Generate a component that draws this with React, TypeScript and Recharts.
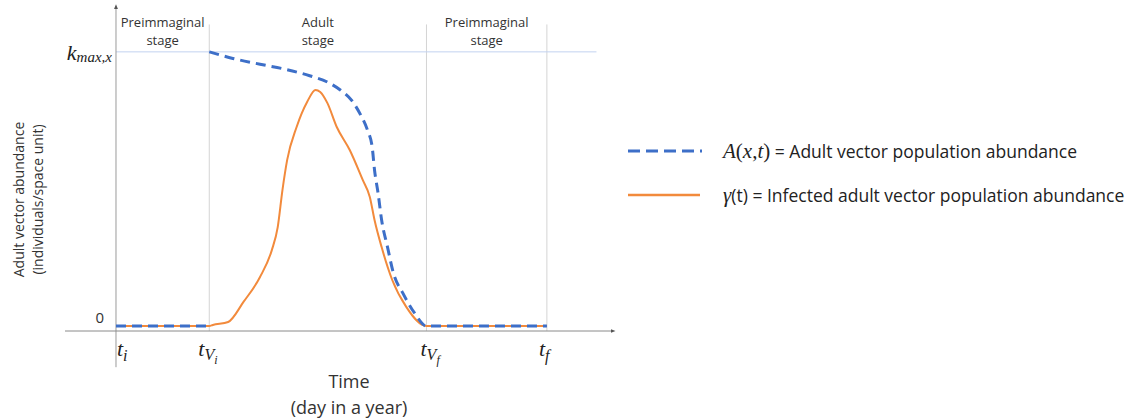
import React from 'react';
import { LineChart, Line, XAxis, YAxis, ReferenceLine, ReferenceArea, Legend, Label } from 'recharts';

// time in days (t_i = 0 ... t_f = 365), abundance relative to k_max,x
const X_TICKS = [0, 79, 263, 365];
const X_TICK_NAMES = [['t', 'i'], ['t', 'V', 'i'], ['t', 'V', 'f'], ['t', 'f']];
const Y_TICKS = [0, 1];
const STAGE_BOUNDS = [0, 79, 263, 365];
const STAGE_NAMES = [['Preimmaginal', 'stage'], ['Adult', 'stage'], ['Preimmaginal', 'stage']];

// A(x,t), null breaks the line at t_Vi
const A_TIME = [0, 79, 79, 79, 99, 122, 145, 164, 179, 190, 200, 207, 213, 217, 219, 222, 225, 230, 235, 243, 253, 263, 365];
const A_VALUE = [0, 0, null, 1.0, 0.976, 0.955, 0.935, 0.913, 0.89, 0.861, 0.821, 0.772, 0.715, 0.653, 0.569, 0.485, 0.387, 0.288, 0.193, 0.12, 0.047, 0, 0];

// gamma(t)
const G_TIME = [0, 79, 82, 95, 108, 122, 132, 137, 141, 145, 153, 162, 169, 173, 179, 187, 198, 209, 215, 219, 225, 234, 246, 263, 365];
const G_VALUE = [0, 0, 0.004, 0.015, 0.088, 0.179, 0.277, 0.361, 0.496, 0.606, 0.726, 0.818, 0.861, 0.854, 0.814, 0.726, 0.642, 0.533, 0.471, 0.387, 0.288, 0.168, 0.069, 0, 0];

const adultData = A_TIME.map((t, i) => ({ t, A: A_VALUE[i] }));
const infectedData = G_TIME.map((t, i) => ({ t, gamma: G_VALUE[i] }));

const BLUE = '#3d6fc8';
const ORANGE = '#f28a3c';
const TEXT = '#333';
const SANS = '"Open Sans", sans-serif';
const MATH = '"Liberation Serif", serif';

const XTick = ({ x, y, payload }: any) => {
  const i = X_TICKS.indexOf(payload.value);
  const parts = X_TICK_NAMES[i];
  const dx = [1, -11, -6, -8][i];
  return (
    <text x={x + dx} y={y + 25} fontFamily={MATH} fontStyle="italic" fontSize={22} fill="#222">
      <tspan>{parts[0]}</tspan>
      {parts.length === 2 ? (
        <tspan fontSize={16} dy={5}>{parts[1]}</tspan>
      ) : (
        <>
          <tspan fontSize={16} dy={4}>{parts[1]}</tspan>
          <tspan fontSize={12} dy={4}>{parts[2]}</tspan>
        </>
      )}
    </text>
  );
};

const YTick = ({ x, y, payload }: any) => {
  if (payload.value === 0) {
    return (
      <text x={x + 39} y={y - 3} textAnchor="end" fontFamily={SANS} fontSize={15} fill={TEXT}>0</text>
    );
  }
  return (
    <text x={x + 47} y={y + 8} textAnchor="end" fontFamily={MATH} fontStyle="italic" fontSize={22} fill="#222">
      <tspan>k</tspan>
      <tspan fontSize={15} dy={2}>max,x</tspan>
    </text>
  );
};

const YTitle = ({ viewBox }: any) => {
  const cy = viewBox.y + viewBox.height / 2 + 30;
  return (
    <g fontFamily={SANS} fontSize={14} fill={TEXT} textAnchor="middle">
      <text x={18} y={cy} transform={`rotate(-90, 18, ${cy})`} dominantBaseline="central">Adult vector abundance</text>
      <text x={37} y={cy} transform={`rotate(-90, 37, ${cy})`} dominantBaseline="central">(individuals/space unit)</text>
    </g>
  );
};

const XTitle = ({ viewBox }: any) => {
  const cx = viewBox.x + viewBox.width / 2 + 10;
  return (
    <g fontFamily={SANS} fontSize={18} fill={TEXT} textAnchor="middle">
      <text x={cx} y={viewBox.y + 57}>Time</text>
      <text x={cx} y={viewBox.y + 83}>(day in a year)</text>
    </g>
  );
};

const StageLabel = (lines: string[]) => ({ viewBox }: any) => {
  const cx = viewBox.x + viewBox.width / 2;
  return (
    <g fontFamily={SANS} fontSize={13} fill={TEXT} textAnchor="middle">
      <text x={cx} y={viewBox.y + 19}>{lines[0]}</text>
      <text x={cx} y={viewBox.y + 37}>{lines[1]}</text>
    </g>
  );
};

const mathSpan = (s: string, italic = true) => (
  <span style={{ fontFamily: MATH, fontStyle: italic ? 'italic' : 'normal', fontSize: 21 }}>{s}</span>
);

const legendLabel = (key: string) =>
  key === 'A' ? (
    <>
      {mathSpan('A')}
      {mathSpan('(', false)}
      {mathSpan('x')}
      {mathSpan(',', false)}
      {mathSpan('t')}
      {mathSpan(')', false)}
      <span> = Adult vector population abundance</span>
    </>
  ) : (
    <>
      {mathSpan('γ')}
      <span>(t) = Infected adult vector population abundance</span>
    </>
  );

const LegendContent = ({ payload }: any) => {
  const items = [...(payload || [])].sort((a: any, b: any) => (a.dataKey === 'A' ? -1 : b.dataKey === 'A' ? 1 : 0));
  return (
    <div style={{ fontFamily: SANS, fontSize: 17.5, color: '#222' }}>
      {items.map((entry: any) => (
        <div key={entry.dataKey} style={{ display: 'flex', alignItems: 'center', height: 44 }}>
          <svg width={74} height={10} style={{ marginRight: 21 }}>
            {entry.dataKey === 'A' ? (
              <line x1={0} y1={5} x2={74} y2={5} stroke={BLUE} strokeWidth={3} strokeDasharray="12 6 12 6 12 6 12 6 2 100" />
            ) : (
              <line x1={0} y1={5} x2={72} y2={5} stroke={ORANGE} strokeWidth={2.5} />
            )}
          </svg>
          <span style={{ whiteSpace: 'nowrap' }}>{legendLabel(entry.dataKey)}</span>
        </div>
      ))}
    </div>
  );
};

export default function App() {
  return (
    <div style={{ position: 'absolute', left: 0, top: 0, background: '#fff' }}>
      <svg width={0} height={0} style={{ position: 'absolute' }}>
        <defs>
          <marker id="arrow" viewBox="0 0 10 10" refX="5" refY="5" markerWidth="5" markerHeight="5" orient="auto" markerUnits="userSpaceOnUse">
            <path d="M0,1 L10,5 L0,9 z" fill="#555" />
          </marker>
        </defs>
      </svg>
      <LineChart width={1138} height={420} margin={{ top: 8, right: 525, bottom: 0, left: 0 }}>
        <XAxis
          dataKey="t"
          type="number"
          domain={[-43.2, 421]}
          allowDataOverflow
          ticks={X_TICKS}
          tick={<XTick />}
          tickLine={false}
          tickSize={0}
          tickMargin={0}
          height={89}
          axisLine={{ stroke: '#8a8a8a', strokeWidth: 1, markerEnd: 'url(#arrow)' }}
        >
          <Label content={<XTitle />} />
        </XAxis>
        <YAxis
          type="number"
          domain={[-0.018, 1.16]}
          allowDataOverflow
          ticks={Y_TICKS}
          tick={<YTick />}
          tickLine={false}
          tickSize={0}
          tickMargin={0}
          axisLine={false}
          width={65}
        >
          <Label content={<YTitle />} />
        </YAxis>

        {STAGE_NAMES.map((lines, i) => (
          <ReferenceArea
            key={i}
            x1={STAGE_BOUNDS[i]}
            x2={STAGE_BOUNDS[i + 1]}
            fill="none"
            stroke="none"
            ifOverflow="visible"
            label={StageLabel(lines)}
          />
        ))}
        {X_TICKS.slice(1).map((t) => (
          <ReferenceLine
            key={t}
            segment={[{ x: t, y: -0.018 }, { x: t, y: 1.1 }]}
            stroke="#d4d4d4"
            strokeWidth={1}
            ifOverflow="visible"
          />
        ))}
        <ReferenceLine
          segment={[{ x: 0, y: 1 }, { x: 407, y: 1 }]}
          stroke="#c3d2f0"
          strokeWidth={1}
          ifOverflow="visible"
        />
        <ReferenceLine
          segment={[{ x: 0, y: -0.15 }, { x: 0, y: 1.165 }]}
          stroke="#9a9a9a"
          strokeWidth={1}
          markerEnd="url(#arrow)"
          ifOverflow="visible"
        />

        <Line
          data={infectedData}
          dataKey="gamma"
          name="infected"
          type="monotone"
          stroke={ORANGE}
          strokeWidth={2}
          dot={false}
          activeDot={false}
          isAnimationActive={false}
        />
        <Line
          data={adultData}
          dataKey="A"
          name="adult"
          type="monotone"
          stroke={BLUE}
          strokeWidth={3}
          strokeDasharray="10 6"
          dot={false}
          activeDot={false}
          connectNulls={false}
          isAnimationActive={false}
        />
        <Legend
          layout="vertical"
          align="center"
          verticalAlign="middle"
          content={<LegendContent />}
          wrapperStyle={{ left: 628, top: 129, width: 510 }}
        />
      </LineChart>
    </div>
  );
}
